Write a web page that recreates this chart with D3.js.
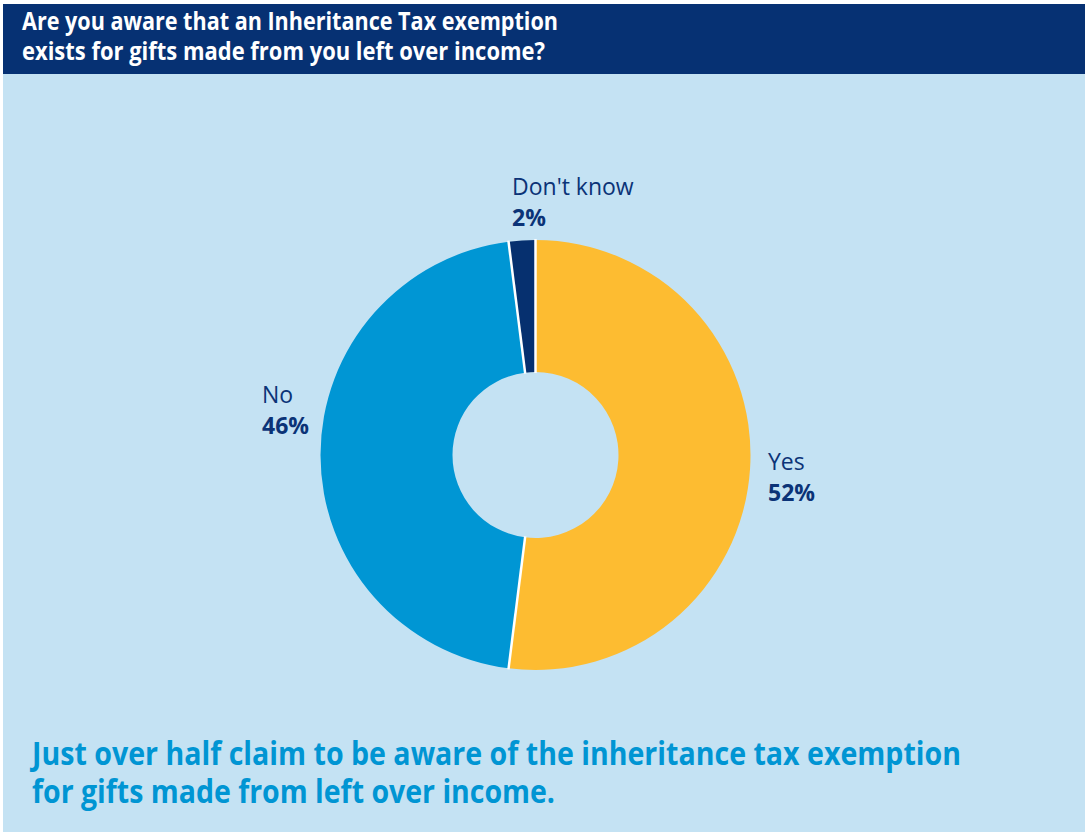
<!DOCTYPE html>
<html>
<head>
<meta charset="utf-8">
<script src="https://cdn.jsdelivr.net/npm/d3@7"></script>
<style>
  html, body { margin: 0; padding: 0; background: #ffffff; }
  svg { display: block; }
</style>
</head>
<body>
<svg id="chart" width="1088" height="832"></svg>
<script>
// Survey answers and shares (%)
const categories = ["Yes", "No", "Don't know"];
const shares = [52, 46, 2];
const sliceColors = ["#FDBC31", "#0096D4", "#06306F"];

const titleLines = [
  "Are you aware that an Inheritance Tax exemption",
  "exists for gifts made from you left over income?"
];
const footnoteLines = [
  "Just over half claim to be aware of the inheritance tax exemption",
  "for gifts made from left over income."
];

const W = 1088, H = 832;
const svg = d3.select("#chart");

// Panel background and header band
svg.append("rect").attr("x", 3).attr("y", 4).attr("width", 1082).attr("height", H - 4)
  .attr("fill", "#C4E2F3");
svg.append("rect").attr("x", 3).attr("y", 4).attr("width", 1082).attr("height", 70)
  .attr("fill", "#063173");

const condensed = "'Open Sans', 'DejaVu Sans', sans-serif";
const labelFont = "'Open Sans', 'Noto Sans', sans-serif";

// Header question (condensed by fitting to a line length)
const titleWidths = [536, 523];
titleLines.forEach((t, i) => {
  svg.append("text")
    .attr("x", 22).attr("y", 30 + i * 30)
    .attr("fill", "#ffffff")
    .attr("font-family", condensed)
    .attr("font-weight", 700)
    .attr("font-size", 25)
    .attr("textLength", titleWidths[i])
    .attr("lengthAdjust", "spacingAndGlyphs")
    .text(t);
});

// Donut
const cx = 535.5, cy = 455, rOuter = 215, rInner = 83;
const data = categories.map((c, i) => ({ name: c, value: shares[i], color: sliceColors[i] }));

const pie = d3.pie().value(d => d.value).sort(null);
const arc = d3.arc().innerRadius(rInner).outerRadius(rOuter);
const arcs = pie(data);

const g = svg.append("g").attr("transform", `translate(${cx},${cy})`);
g.selectAll("path.slice")
  .data(arcs)
  .join("path")
  .attr("class", "slice")
  .attr("d", arc)
  .attr("fill", d => d.data.color);

// White separators between neighbouring slices
g.selectAll("line.sep")
  .data(arcs)
  .join("line")
  .attr("class", "sep")
  .attr("x1", d => (rInner - 1) * Math.sin(d.startAngle))
  .attr("y1", d => -(rInner - 1) * Math.cos(d.startAngle))
  .attr("x2", d => (rOuter + 1) * Math.sin(d.startAngle))
  .attr("y2", d => -(rOuter + 1) * Math.cos(d.startAngle))
  .attr("stroke", "#ffffff")
  .attr("stroke-width", 2.5);

// Slice labels: name on top, bold percentage beneath
const labelPos = {
  "Yes": [768, 470],
  "No": [262, 403],
  "Don't know": [512, 195]
};
data.forEach(d => {
  const [x, y] = labelPos[d.name];
  const t = svg.append("text")
    .attr("x", x).attr("y", y)
    .attr("fill", "#0B3377")
    .attr("font-family", labelFont);
  t.append("tspan").attr("x", x).attr("font-size", 23).attr("font-weight", 400).text(d.name);
  t.append("tspan").attr("x", x).attr("dy", 31).attr("font-size", 23).attr("font-weight", 700)
    .text(d3.format("d")(d.value) + "%");
});

// Takeaway text
const footWidths = [929, 523];
footnoteLines.forEach((t, i) => {
  svg.append("text")
    .attr("x", 32).attr("y", 765 + i * 38)
    .attr("fill", "#0095D3")
    .attr("font-family", condensed)
    .attr("font-weight", 700)
    .attr("font-size", 33)
    .attr("textLength", footWidths[i])
    .attr("lengthAdjust", "spacingAndGlyphs")
    .text(t);
});
</script>
</body>
</html>
